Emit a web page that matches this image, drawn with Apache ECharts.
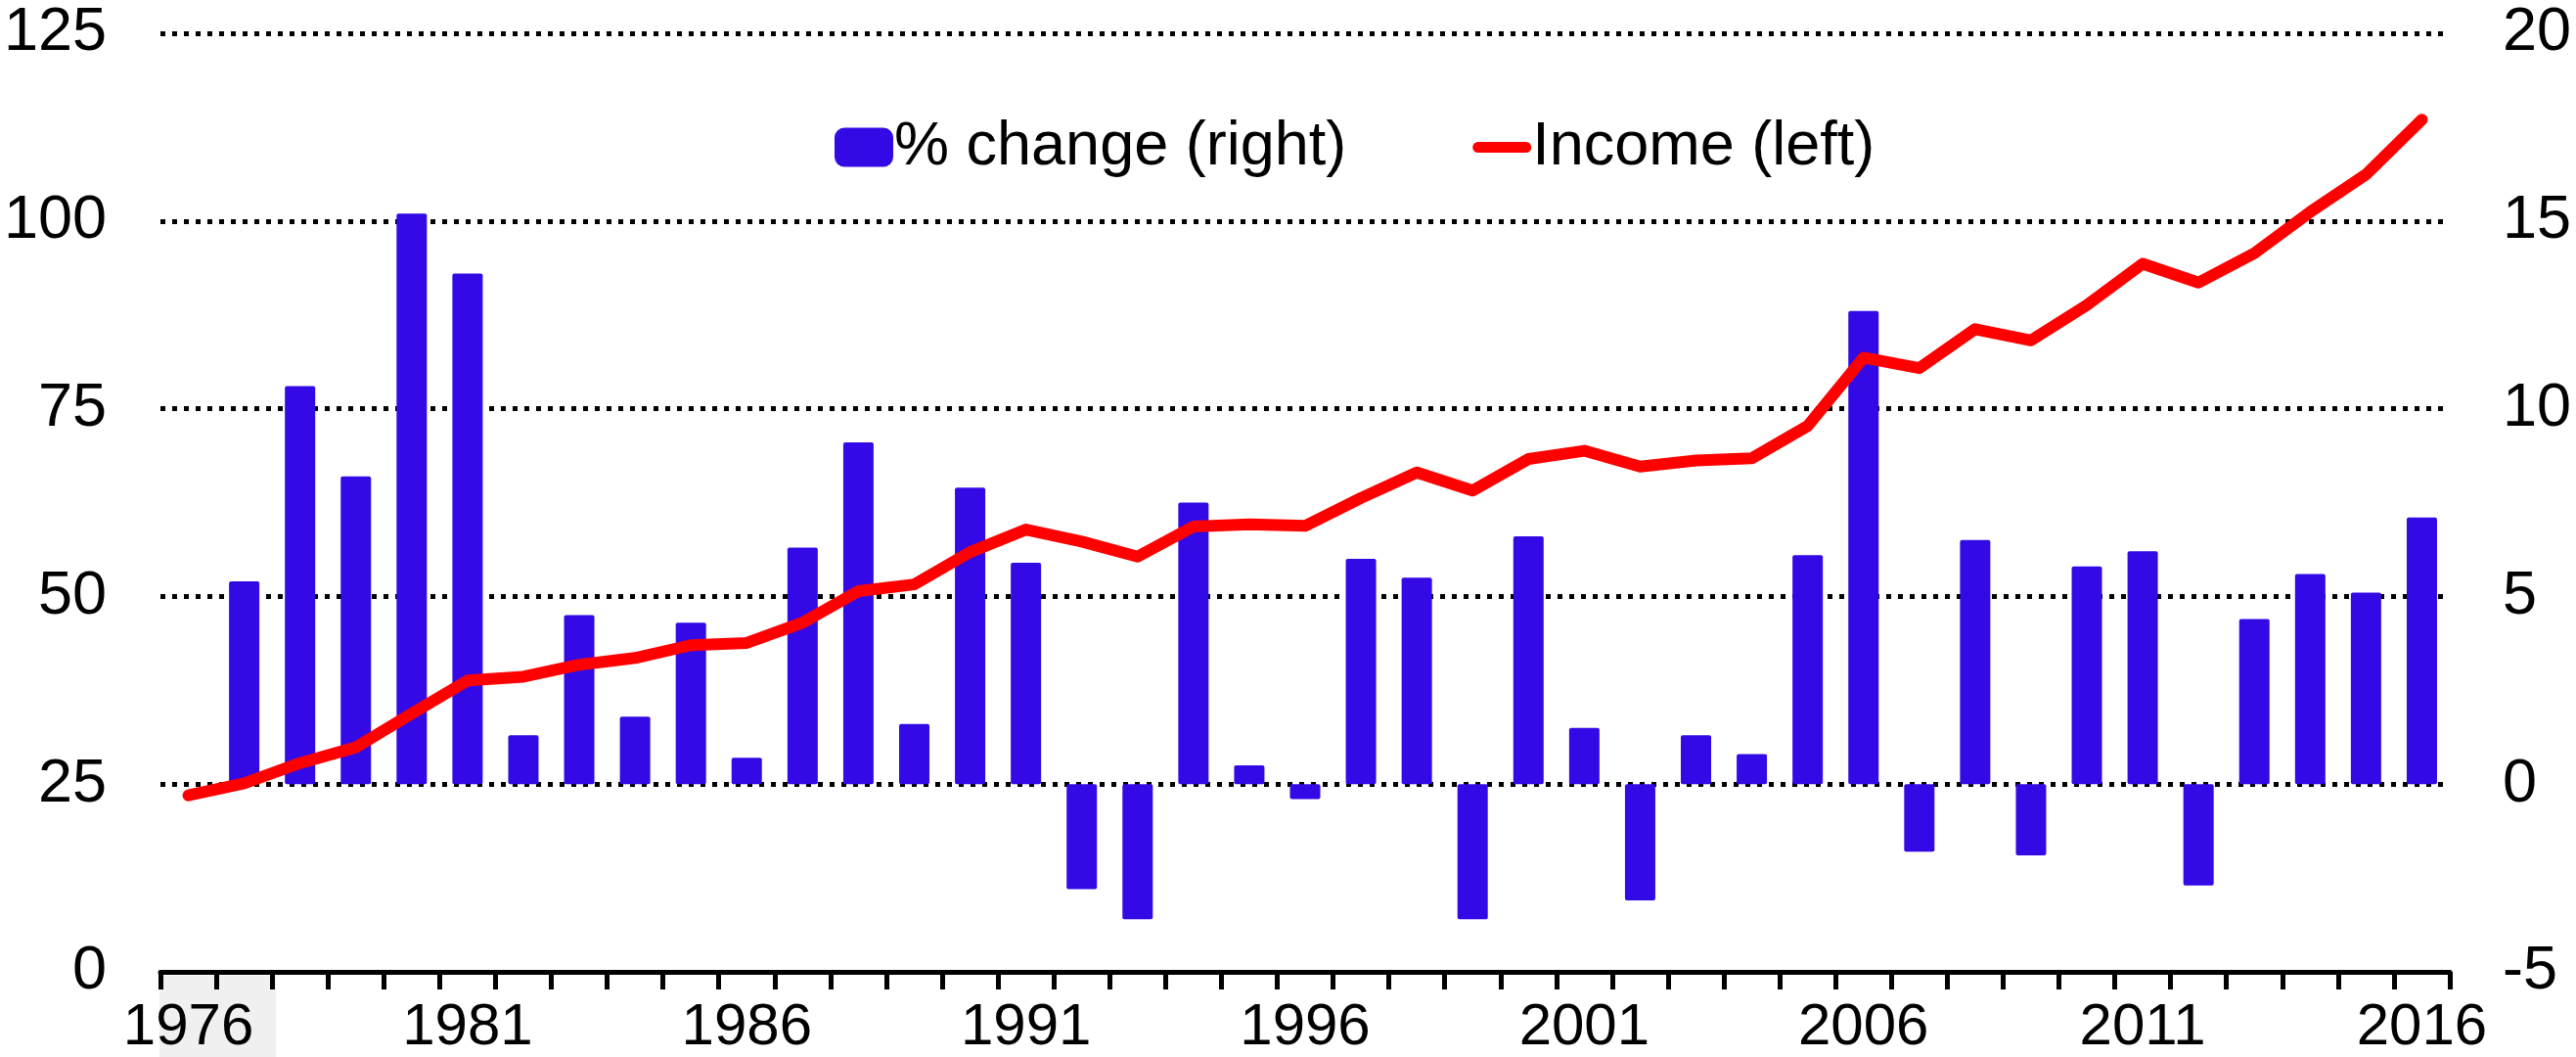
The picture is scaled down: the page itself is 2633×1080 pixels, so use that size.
<!DOCTYPE html>
<html>
<head>
<meta charset="utf-8">
<style>
  html, body { margin: 0; padding: 0; background: #fff; }
  #chart { width: 2633px; height: 1080px; }
</style>
<script src="https://cdn.jsdelivr.net/npm/echarts@6/dist/echarts.min.js"></script>
</head>
<body>
<div id="chart"></div>
<script>
const years = [];
for (let y = 1976; y <= 2016; y++) years.push(String(y));

// % change, right axis (no bar for 1976)
const pctChange = [
  null, 5.4, 10.6, 8.2, 15.2, 13.6, 1.3, 4.5, 1.8, 4.3,
  0.7, 6.3, 9.1, 1.6, 7.9, 5.9, -2.8, -3.6, 7.5, 0.5,
  -0.4, 6.0, 5.5, -3.6, 6.6, 1.5, -3.1, 1.3, 0.8, 6.1,
  12.6, -1.8, 6.5, -1.9, 5.8, 6.2, -2.7, 4.4, 5.6, 5.1,
  7.1
];

// income, left axis
const income = [
  23.5, 25.1, 27.8, 29.9, 34.4, 38.8, 39.3, 40.9, 41.8, 43.5,
  43.8, 46.5, 50.7, 51.6, 55.9, 58.9, 57.3, 55.3, 59.3, 59.6,
  59.4, 63.1, 66.5, 64.1, 68.3, 69.4, 67.3, 68.1, 68.4, 72.7,
  81.8, 80.4, 85.6, 84.1, 88.8, 94.3, 91.8, 95.7, 101.2, 106.2,
  113.5
];

const font = "'Liberation Sans', Arial, sans-serif";
const myChart = echarts.init(document.getElementById("chart"));

myChart.setOption({
  animation: false,
  backgroundColor: "#fff",
  textStyle: { fontFamily: font, color: "#000" },
  graphic: [
    {
      type: "rect",
      z: -10,
      shape: { x: 163, y: 997, width: 119, height: 83 },
      style: { fill: "#f0f0f0" },
    },
  ],
  legend: {
    left: 848,
    top: 114,
    itemWidth: 60,
    itemHeight: 40,
    itemGap: 129,
    textStyle: { fontSize: 63, color: "#000", fontFamily: font, padding: [0, 0, 0, -4] },
    data: [
      { name: "% change (right)", icon: "roundRect" },
      {
        name: "Income (left)",
        icon: "path://M5.5,0h49a5.5,5.5 0 0 1 0,11h-49a5.5,5.5 0 0 1 0,-11z",
        itemStyle: { color: "#ff0000" },
      },
    ],
  },
  grid: { left: 164, right: 129, top: 34, bottom: 86 },
  xAxis: {
    type: "category",
    data: years,
    z: 5,
    axisLine: { show: true, onZero: false, lineStyle: { color: "#000", width: 5 } },
    axisTick: {
      show: true,
      interval: 0,
      alignWithLabel: false,
      length: 18,
      lineStyle: { color: "#000", width: 5 },
    },
    axisLabel: { interval: 4, fontSize: 60, color: "#000", margin: 27, fontFamily: font },
  },
  yAxis: [
    {
      type: "value",
      min: 0,
      max: 125,
      interval: 25,
      axisLine: { show: false },
      axisTick: { show: false },
      axisLabel: { fontSize: 63, color: "#000", margin: 55, fontFamily: font },
      splitLine: { lineStyle: { color: "#000", width: 5, type: [5, 7] } },
    },
    {
      type: "value",
      min: -5,
      max: 20,
      interval: 5,
      axisLine: { show: false },
      axisTick: { show: false },
      axisLabel: { fontSize: 63, color: "#000", margin: 54, fontFamily: font },
      splitLine: { show: false },
    },
  ],
  series: [
    {
      name: "% change (right)",
      type: "bar",
      yAxisIndex: 1,
      barWidth: 31,
      data: pctChange,
      itemStyle: { color: "#330ae6", borderRadius: 2 },
    },
    {
      name: "Income (left)",
      type: "line",
      yAxisIndex: 0,
      data: income,
      symbol: "none",
      lineStyle: { color: "#ff0000", width: 12, cap: "round", join: "round" },
      itemStyle: { color: "#ff0000" },
    },
  ],
});
</script>
</body>
</html>
